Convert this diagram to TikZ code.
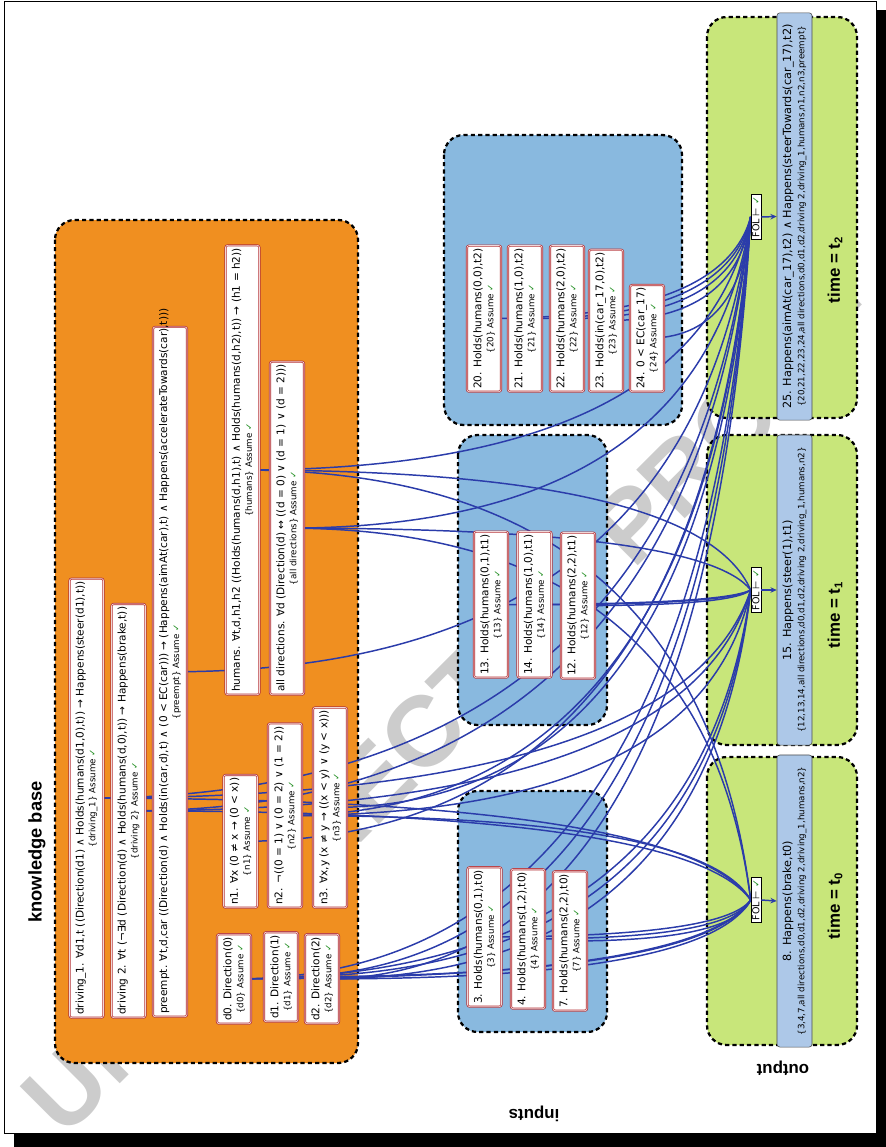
\documentclass[tikz,border=0pt]{standalone}
\usepackage{fontspec}
\setmainfont{DejaVu Sans}
\newfontfamily\headfont{Liberation Sans}
\usetikzlibrary{arrows.meta,calc}

\definecolor{kborange}{RGB}{240,143,32}
\definecolor{inblue}{RGB}{137,185,223}
\definecolor{outgreen}{RGB}{200,230,122}
\definecolor{barblue}{RGB}{173,200,232}
\definecolor{linkblue}{RGB}{43,60,170}
\definecolor{boxred}{RGB}{180,50,55}
\definecolor{okgreen}{RGB}{30,140,30}

\pgfdeclarelayer{bg}
\pgfdeclarelayer{links}
\pgfsetlayers{bg,links,main}

\newcommand{\ok}{\textcolor{okgreen}{✓}}
\newcommand{\subsz}{\fontsize{6.2}{7.2}\selectfont}
\newcommand{\stmt}[2]{#1\\{\subsz\{#2\} Assume \ok}}
\newcommand{\wire}[2]{\draw[link] let \p1=(#1.center), \p2=(#2.north) in
  (\p1) .. controls ({\x1+0.6*(\x2-\x1)},\y1) and ({\x2-0.07*(\x2-\x1)},{\y2+0.67*(\y1-\y2)}) .. (\p2);}

\begin{document}
\begin{tikzpicture}[x=0.025cm, y=-0.025cm,
  fact/.style={rotate=90, anchor=west, draw=boxred, double=boxred!20, double distance=0.5pt,
    line width=0.5pt, fill=white, rounded corners=1.5pt, align=center, minimum height=0.85cm,
    inner xsep=2pt, inner ysep=1pt, font=\fontsize{7.5}{8.5}\selectfont},
  group/.style={line width=1.6pt, dash pattern=on 3pt off 2.2pt, rounded corners=14pt},
  result/.style={rotate=90, draw=black!70, fill=barblue, rounded corners=2pt, align=center,
    minimum height=0.875cm, inner sep=1pt, font=\fontsize{8}{9.5}\selectfont},
  fol/.style={rotate=90, draw, fill=white, inner xsep=1.5pt, inner ysep=1pt, font=\fontsize{6.8}{8}\selectfont},
  link/.style={draw=linkblue, line width=1.05pt},
  title/.style={font=\headfont\bfseries\fontsize{12}{14}\selectfont}]
\useasboundingbox (0,0) rectangle (886,1147);

\begin{pgfonlayer}{bg}
  \node[rotate=45, text=black!20, font=\headfont\bfseries\fontsize{71}{71}\selectfont] (proof) at (450,705) {UNCORRECTED PROOF};
  \draw[group, fill=kborange] (55,220) rectangle (358,1063);
  \draw[group, fill=inblue] (444,135) rectangle (682,425);
  \draw[group, fill=inblue] (458,435) rectangle (607,725);
  \draw[group, fill=inblue] (458,791) rectangle (607,1032);
  \draw[group, fill=outgreen] (707,17) rectangle (857,418);
  \draw[group, fill=outgreen] (707,435) rectangle (857,745);
  \draw[group, fill=outgreen] (707,757) rectangle (857,1045);
\end{pgfonlayer}

% page
\fill[black] (876,10) -- (886,10) -- (886,1147) -- (14,1147) -- (14,1133) -- (876,1133) -- cycle;
\draw[line width=0.6pt] (4,1) rectangle (876,1133);

% knowledge base
\node[fact] (drv1) at (86.5,1018) {\stmt{driving\_1. ∀d1,t ((Direction(d1) ∧ Holds(humans(d1,0),t)) → Happens(steer(d1),t))}{driving\_1}};
\node[fact] (drv2) at (128.5,1018) {\stmt{driving 2. ∀t (¬∃d (Direction(d) ∧ Holds(humans(d,0),t)) → Happens(brake,t))}{driving 2}};
\node[fact] (pre) at (170,1017) {\stmt{\makebox[0.97\width][l]{preempt. ∀t,d,car ((Direction(d) ∧ Holds(in(car,d),t) ∧ (0 < EC(car))) → (Happens(aimAt(car),t) ∧ Happens(accelerateTowards(car),t)))}}{preempt}};
\node[fact] (hum) at (242.5,695) {\stmt{humans. ∀t,d,h1,h2 ((Holds(humans(d,h1),t) ∧ Holds(humans(d,h2),t)) → (h1 = h2))}{humans}};
\node[fact] (dirs) at (287,695) {\stmt{all directions. ∀d (Direction(d) ↔ ((d = 0) ∨ (d = 1) ∨ (d = 2)))}{all directions}};
\node[fact] (n1) at (240.5,908) {\stmt{n1. ∀x (0 ≠ x → (0 < x))}{n1}};
\node[fact] (n2) at (285,908) {\stmt{n2. ¬((0 = 1) ∨ (0 = 2) ∨ (1 = 2))}{n2}};
\node[fact] (n3) at (330,908) {\stmt{n3. ∀x,y (x ≠ y → ((x < y) ∨ (y < x)))}{n3}};
\node[fact] (d0) at (234,1024) {\stmt{d0. Direction(0)}{d0}};
\node[fact] (d1) at (281,1022) {\stmt{d1. Direction(1)}{d1}};
\node[fact] (d2) at (322,1024) {\stmt{d2. Direction(2)}{d2}};

% inputs
\node[fact] (i20) at (484,392) {\stmt{20. Holds(humans(0,0),t2)}{20}};
\node[fact] (i21) at (525,392) {\stmt{21. Holds(humans(1,0),t2)}{21}};
\node[fact] (i22) at (567,392) {\stmt{22. Holds(humans(2,0),t2)}{22}};
\node[fact] (i23) at (606,392) {\stmt{23. Holds(in(car\_17,0),t2)}{23}};
\node[fact] (i24) at (647,392) {\stmt{24. 0 < EC(car\_17)}{24}};
\node[fact] (i13) at (491,678) {\stmt{13. Holds(humans(0,1),t1)}{13}};
\node[fact] (i14) at (534.5,678) {\stmt{14. Holds(humans(1,0),t1)}{14}};
\node[fact] (i12) at (578,679) {\stmt{12. Holds(humans(2,2),t1)}{12}};
\node[fact] (i3) at (484.5,1007) {\stmt{3. Holds(humans(0,1),t0)}{3}};
\node[fact] (i4) at (528,1009) {\stmt{4. Holds(humans(1,2),t0)}{4}};
\node[fact] (i7) at (570,1011) {\stmt{7. Holds(humans(2,2),t0)}{7}};

% output
\node[fol] (fol2) at (756,217) {FOL ⊢ \ok};
\node[fol] (fol1) at (756,590) {FOL ⊢ \ok};
\node[fol] (fol0) at (756,900) {FOL ⊢ \ok};
\node[result, minimum width=10.18cm] (out2) at (794.5,216.5) {25. Happens(aimAt(car\_17),t2) ∧ Happens(steerTowards(car\_17),t2)\\{\subsz\{20,21,22,23,24,all directions,d0,d1,d2,driving 2,driving\_1,humans,n1,n2,n3,preempt\}}};
\node[result, minimum width=7.75cm] (out1) at (794.5,590) {15. Happens(steer(1),t1)\\{\subsz\{12,13,14,all directions,d0,d1,d2,driving 2,driving\_1,humans,n2\}}};
\node[result, minimum width=7.3cm] (out0) at (794.5,901) {8. Happens(brake,t0)\\{\subsz\{3,4,7,all directions,d0,d1,d2,driving 2,driving\_1,humans,n2\}}};

\draw[link, -{Stealth[length=4.5pt,width=4pt]}] (fol2.south) -- (out2.north);
\draw[link, -{Stealth[length=4.5pt,width=4pt]}] (fol1.south) -- (out1.north);
\draw[link, -{Stealth[length=4.5pt,width=4pt]}] (fol0.south) -- (out0.north);

\begin{pgfonlayer}{links}
  \foreach \s in {i3,i4,i7,dirs,d0,d1,d2,drv2,drv1,hum,n2}
    \wire{\s}{fol0};
  \foreach \s in {i12,i13,i14,dirs,d0,d1,d2,drv2,drv1,hum,n2}
    \wire{\s}{fol1};
  \foreach \s in {i20,i21,i22,i23,i24,dirs,d0,d1,d2,drv2,drv1,hum,n1,n2,n3,pre}
    \wire{\s}{fol2};
\end{pgfonlayer}

% labels
\node[title, rotate=90, font=\headfont\bfseries\fontsize{13}{15}\selectfont] (kbname) at (37,852) {knowledge base};
\node[title, rotate=180] (inname) at (534,1114) {inputs};
\node[title, rotate=180] (outname) at (783,1068) {output};
\node[title, rotate=90] (time2) at (835,270) {time = t\textsubscript{2}};
\node[title, rotate=90] (time1) at (835,615) {time = t\textsubscript{1}};
\node[title, rotate=90] (time0) at (835,906) {time = t\textsubscript{0}};
\end{tikzpicture}
\end{document}
